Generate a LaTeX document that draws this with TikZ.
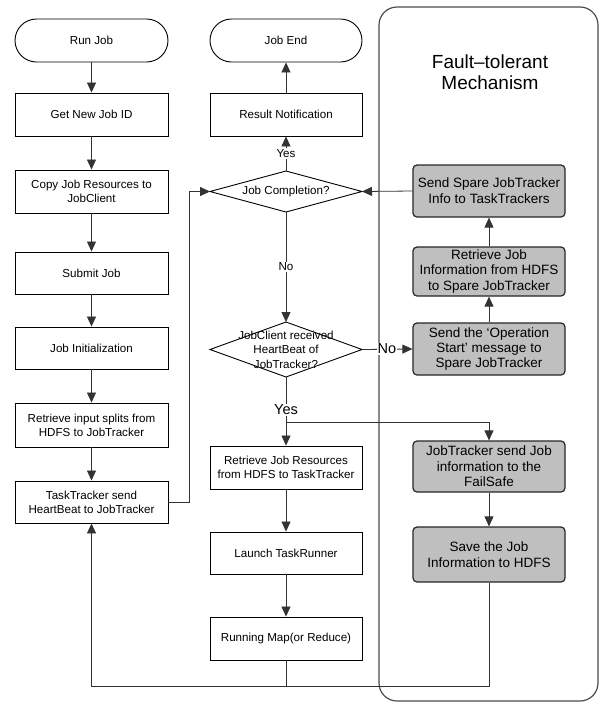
\documentclass[tikz,border=0pt]{standalone}
\usepackage{fontspec}
\setmainfont{Liberation Sans}
\usetikzlibrary{arrows.meta,shapes.geometric}
\begin{document}
\begin{tikzpicture}[x=1pt,y=-1pt,
  conn/.style={draw=black!80, line width=0.8pt},
  arr/.style={conn, -{Triangle[length=10pt,width=9pt]}},
  wbox/.style={draw=black, line width=0.9pt, fill=white, minimum width=153pt, minimum height=43pt, inner sep=0pt, align=center, font=\fontsize{11.6}{14.3}\selectfont},
  term/.style={wbox, rounded corners=21.5pt},
  gbox/.style={draw=black!85, line width=1.2pt, fill=black!25, rounded corners=4pt, minimum width=152pt, inner sep=0pt, align=center, font=\fontsize{13.5}{15.4}\selectfont},
  dia/.style={draw=black, line width=0.9pt, fill=white, diamond, minimum width=152pt, inner sep=0pt, outer sep=0pt},
  dtext/.style={align=center, inner sep=0pt, font=\fontsize{11.6}{14.5}\selectfont},
  lab/.style={fill=white, inner sep=1pt, font=\fontsize{11.6}{13}\selectfont},
  biglab/.style={fill=white, inner sep=1pt, font=\fontsize{14.5}{16}\selectfont},
  frame/.style={draw=black!70, line width=1.2pt, rounded corners=18pt},
]
\useasboundingbox (0,0) rectangle (600,702);

% fault-tolerant container
\draw[frame] (379,7) rectangle (598,701);
\node[align=center, font=\fontsize{19}{21}\selectfont] (title) at (490,72) {Fault–tolerant\\Mechanism};

% left column
\node[term] (run) at (91.5,40.5) {Run Job};
\node[wbox] (newid) at (91.5,114.5) {Get New Job ID};
\node[wbox] (copy) at (91.5,191.5) {Copy Job Resources to\\JobClient};
\node[wbox, minimum height=42pt] (submit) at (91.5,273) {Submit Job};
\node[wbox, minimum height=42pt] (init) at (91.5,348) {Job Initialization};
\node[wbox, minimum height=44pt] (split) at (91.5,425) {Retrieve input splits from\\HDFS to JobTracker};
\node[wbox, minimum height=42pt] (tt) at (91.5,502) {TaskTracker send\\HeartBeat to JobTracker};

% middle column
\node[term, minimum width=152pt] (jend) at (286,40.5) {Job End};
\node[wbox, minimum width=152pt] (result) at (286,114.5) {Result Notification};
\node[dia, minimum height=41pt] (jc) at (286,191.5) {};
\node[dtext] (jctext) at (286,191.5) {Job Completion?};
\node[dia, minimum height=55pt] (jcr) at (286,349.5) {};
\node[dtext] (jcrtext) at (286,349.5) {JobClient received\\HeartBeat of\\JobTracker?};
\node[wbox, minimum width=152pt] (rjr) at (286,467.5) {Retrieve Job Resources\\from HDFS to TaskTracker};
\node[wbox, minimum width=152pt, minimum height=42pt] (launch) at (286,553) {Launch TaskRunner};
\node[wbox, minimum width=152pt] (running) at (286,638.5) {Running Map(or Reduce)};

% fault-tolerant column
\node[gbox, minimum height=52pt, font=\fontsize{13.5}{16.3}\selectfont] (spare) at (489,191) {Send Spare JobTracker\\Info to TaskTrackers};
\node[gbox, minimum height=49pt] (rinfo) at (489,271.5) {Retrieve Job\\Information from HDFS\\to Spare JobTracker};
\node[gbox, minimum height=52pt] (opstart) at (489,349) {Send the ‘Operation\\Start’ message to\\Spare JobTracker};
\node[gbox, minimum height=51pt] (jtsend) at (489,466.5) {JobTracker send Job\\information to the\\FailSafe};
\node[gbox, minimum height=55pt, font=\fontsize{13.5}{16.5}\selectfont] (save) at (489,554.5) {Save the Job\\Information to HDFS};

% helper coordinates
\coordinate (loopx) at (189,0);
\coordinate (fork) at (286,422);
\coordinate (bot) at (0,686);

% left column arrows
\draw[arr] (run) -- (newid);
\draw[arr] (newid) -- (copy);
\draw[arr] (copy) -- (submit);
\draw[arr] (submit) -- (init);
\draw[arr] (init) -- (split);
\draw[arr] (split) -- (tt);
\draw[arr] (tt.east) -- (tt.east -| loopx) |- (jc.west);

% middle column arrows
\draw[arr] (jc.north) -- (result.south);
\node[lab] (yes1) at (286,153.5) {Yes};
\draw[arr] (result) -- (jend);
\draw[arr] (jc.south) -- (jcr.north);
\node[lab] (no1) at (286,267) {No};
\draw[arr] (jcr.east) -- (opstart.west);
\node[biglab] (no2) at (387,349) {No};
\draw[arr] (jcr.south) -- (rjr.north);
\draw[arr] (fork) -| (jtsend.north);
\node[biglab] (yes2) at (286,410) {Yes};
\draw[arr] (rjr) -- (launch);
\draw[arr] (launch) -- (running);

% fault-tolerant arrows
\draw[arr] (spare.west) -- (jc.east);
\draw[arr] (rinfo) -- (spare);
\draw[arr] (opstart) -- (rinfo);
\draw[arr] (jtsend) -- (save);

% return path
\draw[conn] (running.south) -- (running.south |- bot);
\draw[arr] (save.south) -- (save.south |- bot) -- (tt.south |- bot) -- (tt.south);
\end{tikzpicture}
\end{document}
